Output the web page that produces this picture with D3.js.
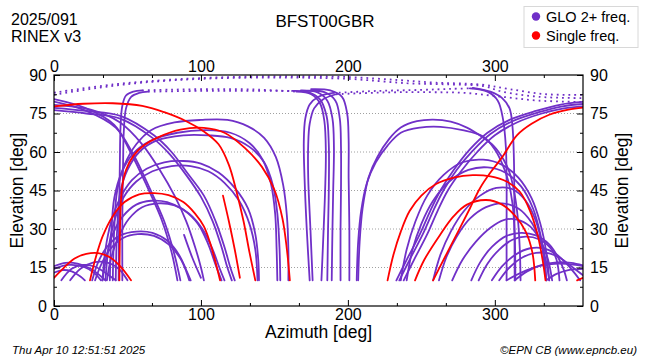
<!DOCTYPE html>
<html><head><meta charset="utf-8">
<script src="https://cdn.jsdelivr.net/npm/d3@7"></script>
<style>
body{margin:0;background:#fff}
text{font-family:"Liberation Sans",Arial,Helvetica,sans-serif;fill:#000}
</style>
</head><body>
<svg id="chart" width="650" height="360"></svg>
<script>
// ---------- data ----------
const azTicks = [0, 100, 200, 300];
const azMinorTicks = [33.33, 66.67, 133.33, 166.67, 233.33, 266.67, 333.33];
const elTicks = [0, 15, 30, 45, 60, 75, 90];
const elMinorTicks = [7.5, 22.5, 37.5, 52.5, 67.5, 82.5];
const elGrid = [15, 30, 45, 60, 75];
const seriesNames = ["GLO 2+ freq.", "Single freq."];

// GLONASS dual/multi-frequency tracks: [azimuth, elevation]
const gloTracks = [
  [[0,80.6],[22,77],[41,70.6],[52,60],[63,47],[73,34],[80,21],[84,10]],
  [[0,79.6],[22,76],[42,69.5],[54,59],[65,46],[75,33],[82,20],[86,10]],
  [[0,77.2],[22,76],[45.6,74],[68,66.5],[80,60],[90.5,52],[102,43],[110,33],[116,23],[120,15],[123,10]],
  [[0,76.3],[22,75],[45,73],[67,65.5],[79,59],[90,51],[100,42.5],[108,33],[114,23],[118,15],[121,10]],
  [[0,78.4],[25,76.5],[45,71.5],[60,63],[72,53],[82,43],[90,33],[96,23],[100,15],[102,10]],
  [[44,10],[44.3,35],[44.8,55],[45.3,70],[46.5,78],[49,82],[54,83.5],[60,84]],
  [[46.5,10],[46.5,35],[47,55],[47.5,68],[49,77],[52.5,81.5],[58,83],[64,83.5]],
  [[40,10],[41,30],[43,45],[48,55],[56,63],[66,68.5],[82,71.5],[100,72.5],[118,72.5],[132,70],[143,65.5],[151,58],[156,47],[158.5,35],[159.5,22],[159.5,10]],
  [[42,10],[43,30],[45,44],[50,53],[58,60],[70,64.5],[88,66.5],[105,66.5],[120,65.5],[133,62],[143,56],[149,47],[152,36],[153.5,22],[154,10]],
  [[38,10],[39,28],[41,42],[46,52],[54,59.5],[66,64.5],[84,67.5],[103,68.5],[120,67.5],[133,63.5],[142,57],[147.5,48],[150.5,36],[151.5,22],[152,10]],
  [[33,10],[35,22],[39,33],[45,42],[53,49],[63,53.5],[75,56],[88,56.5],[100,55.5],[112,52],[123,46],[132,38],[137,28],[139,18],[139.5,10]],
  [[35,10],[37,22],[41,33],[47,42],[56,48.5],[67,52.5],[80,54.5],[93,54.5],[105,52.5],[116,48],[126,41],[133,32],[137,22],[138.5,10]],
  [[33,10],[36,20],[40,28],[47,35],[56,39.5],[66,41],[77,40.5],[88,37.5],[98,32],[105,24],[110,16],[114,10]],
  [[36,10],[39,19],[44,27],[51,34],[60,38.5],[71,40],[82,39.2],[92,36],[101,30],[108,22],[112.5,15],[116,10]],
  [[26,10],[30,17],[36,23],[45,27.5],[56,29],[67,28.5],[77,25.5],[85,20],[90,14],[93,10]],
  [[28,10],[32,16],[38,22],[47,26.5],[57,28],[68,27.3],[78,24],[86,18.5],[90,13.5],[92,10]],
  [[0,15.5],[8,16.8],[16,16.5],[24,14.8],[30,12.5],[35,10]],
  [[0,14.5],[10,16],[20,15.3],[27,13],[32,10]],
  [[5,10],[12,14.5],[20,16],[28,15.3],[36,12.5],[42,10]],
  [[0,13],[6,14],[12,13.5],[18,11.5],[21,10]],
  [[11,10],[18,14.5],[27,17],[36,17],[44,14.5],[50,10]],
  [[88.5,27.7],[94,19],[100,11]],
  [[174,10],[172,30],[170.5,50],[170,64],[171,73],[174,78.5],[180,81.5],[190,83]],
  [[176,10],[174.5,30],[173,50],[173,63],[174,71],[177,77],[183,80.5],[192,82.5]],
  [[165,83.5],[175,82.5],[181,79],[184,72],[185,60],[184.5,45],[183.5,30],[182,10]],
  [[168,84],[179,83.3],[186,80],[189.5,73],[190.5,62],[190,45],[189.5,30],[189,10]],
  [[162,83.8],[173,83.3],[181,80.5],[185.5,74],[187,63],[187,45],[186.5,30],[186,10]],
  [[175,84.5],[188,84],[196,81.5],[199.5,75],[200.5,65],[200.5,50],[201,30],[201,10]],
  [[172,83.8],[184,83.3],[191.5,80],[194.5,73],[195.3,62],[195.3,45],[195,30],[195,10]],
  [[207,10],[208,25],[210,38],[214,50],[220,58],[228,65],[236,69.5],[247,72],[258,72.6],[270,71.8],[281,69.5],[291,66],[299,62.5],[306,57],[310,52],[313,45],[315.5,35],[317,22],[317.5,10]],
  [[206,10],[207,25],[209,37],[213,48],[219,56],[227,62.5],[236,67.5],[249,69.5],[263,69.8],[278,68.5],[292,66],[300,61],[305,55.5],[309,49],[312,40],[313.5,28],[314,10]],
  [[285,85],[297,83.5],[305,81],[310,77],[312,70],[313,57],[313.3,37],[313.5,10]],
  [[283,84.8],[295,83.5],[302,80],[305.5,73],[307.5,62],[308,48],[308,30],[308,10]],
  [[233,10],[240,18],[249,28],[256,37],[263,45],[272,53],[283,61],[295,67.5],[310,72.5],[328,76],[345,78.5],[360,79.5]],
  [[235,10],[242,18],[251,28],[258,37],[265,45],[274,53],[285,60.5],[297,67],[312,72],[330,75.5],[346,77.8],[360,78.7]],
  [[238,10],[245,18],[254,28],[261,37],[268,45],[277,52.5],[288,60],[300,66.5],[315,71.5],[332,75],[347,77],[360,77.8]],
  [[236,10],[240,22],[246,33],[254,43],[265,51],[278,56],[292,57],[305,55],[316,50],[325,42],[331,32],[335,21],[337,10]],
  [[240,10],[244,22],[250,32],[258,41],[269,48.5],[282,53],[295,54],[307,52],[318,46.5],[326,38],[331,28],[334,18],[335,10]],
  [[258,10],[263,20],[270,29],[279,37],[290,43],[301,46],[312,45.5],[321,41],[328,33],[332,24],[334,15],[335,10]],
  [[262,10],[267,19],[274,27],[283,34],[294,38.5],[305,40],[316,38],[325,32.5],[331,25],[335,17],[337,10]],
  [[271,10],[278,18],[287,25],[297,30.5],[306,33.5],[315,33.7],[324,31],[331,25.5],[336,18.5],[339,10]],
  [[284,10],[290,17],[298,23],[308,27.3],[318,28.5],[328,27.5],[337,24],[343,19],[347,14],[349,10]],
  [[289,10],[295,16.5],[303,22],[312,25.8],[321,27],[330,26],[338,22.5],[342,18],[344,10]],
  [[298,10],[305,15.5],[314,20],[324,22.5],[333,22.5],[341,20.5],[348,17],[354,13],[358,10]],
  [[303,10],[310,15],[319,19],[328,20.7],[337,20.5],[345,18.5],[352,15.5],[360,12]],
  [[313.5,10],[322,13.5],[332,16],[342,17],[352,16.8],[360,15.8]],
  [[308,10],[318,13],[330,15.5],[343,16.5],[355,16],[360,15.5]],
  [[335,10],[342,12.5],[350,14],[360,14.5]]
];

// GLONASS high passes near zenith (sparse epochs, drawn as dots)
const gloDotted = [
  [[0,82.3],[30,85],[60,87],[100,88.5],[150,89],[200,88.5],[240,86.8],[270,86.3],[292,85.7],[305,83.5],[330,81.5],[360,81]],
  [[0,83.1],[40,86.3],[80,88.2],[120,89.2],[160,89.5],[200,89.2],[235,88],[260,87],[290,86.3],[310,84.5],[335,82.5],[360,82.3]],
  [[60,84],[80,84.3],[110,84.5],[140,84.3],[165,83.5]],
  [[64,83.5],[100,83.8],[130,83.8],[162,83.8]],
  [[190,83],[220,83.8],[250,84.2],[270,84.6],[285,84.8]],
  [[192,82.5],[225,83.2],[255,83.3],[280,83],[305,81.5],[330,80],[360,79.5]]
];

// Single-frequency tracks
const singleTracks = [
  [[0,77.8],[20,78.8],[40,79],[60,78],[75,75.5],[90,72],[102,68],[112,63],[119,55],[124,45],[129,33],[133,21],[137,10]],
  [[44.5,10],[44.8,25],[45.3,38],[46.5,47],[49,53],[54,58.5],[61,62.5],[70,65.5],[86,68.7],[102,69.4],[116,67.5],[130,61.5],[141.5,54.2],[150,45.3],[155.5,34],[158.5,22],[160.5,10]],
  [[24.5,10],[28,18],[33,27],[40,35],[48,40.5],[58,43.5],[68,44],[78,43.2],[88,40.5],[96,36],[102,31],[106,25],[109.5,18],[113,10]],
  [[0,11],[6,14.5],[14,18.5],[22,20.3],[30,20.6],[38,19],[45,15.5],[52.4,10]],
  [[356,10],[360,11]],
  [[115,43],[119,33],[123,22],[126.5,11]],
  [[258,10],[266,19],[275,29],[283,38],[290,46],[297,52],[305,58],[315,66.5],[325,71],[337,74.5],[350,76.5],[360,77.3]],
  [[227,10],[231,20],[236,29],[242,37],[250,43],[260,47.5],[272,50],[285,51],[297,50.5],[308,48.5],[317,44.5],[324,37],[329,28],[332.5,18],[334.5,10]],
  [[245.7,10],[252,18],[262.7,27.7],[272,35],[281,39.5],[294,41.3],[305,39.5],[314,35],[321,29],[325.5,21],[327.5,10]]
];

// ---------- drawing ----------
const M = {left: 54, right: 583, top: 75, bottom: 306};
const purple = "#7030c8", red = "#ff0000";
const svg = d3.select("#chart");
const x = d3.scaleLinear().domain([0, 360]).range([M.left, M.right]);
const y = d3.scaleLinear().domain([0, 90]).range([M.bottom, M.top]);

svg.append("defs").append("clipPath").attr("id", "clip")
  .append("rect").attr("x", M.left).attr("y", M.top)
  .attr("width", M.right - M.left).attr("height", M.bottom - M.top);

// grid
svg.append("g").selectAll("line").data(elGrid).join("line")
  .attr("x1", M.left).attr("x2", M.right)
  .attr("y1", d => y(d)).attr("y2", d => y(d))
  .attr("stroke", "#a0a0a0").attr("stroke-width", 1).attr("stroke-dasharray", "1,2");

const line = d3.line().x(d => x(d[0])).y(d => y(d[1])).curve(d3.curveCatmullRom.alpha(0.5));
const plot = svg.append("g").attr("clip-path", "url(#clip)");

plot.append("g").selectAll("path").data(gloDotted).join("path")
  .attr("d", line).attr("fill", "none").attr("stroke", purple)
  .attr("stroke-width", 1.8).attr("stroke-dasharray", "1.8,4");
plot.append("g").selectAll("path").data(gloTracks).join("path")
  .attr("d", line).attr("fill", "none").attr("stroke", purple)
  .attr("stroke-width", 1.8).attr("stroke-linecap", "round");
plot.append("g").selectAll("path").data(singleTracks).join("path")
  .attr("d", line).attr("fill", "none").attr("stroke", red)
  .attr("stroke-width", 1.8).attr("stroke-linecap", "round");

// axes
function styleAxis(g) {
  g.select(".domain").remove();
  g.selectAll("line").attr("stroke", "#000");
  g.selectAll("text").attr("font-size", 16).attr("font-family", '"Liberation Sans",Arial,sans-serif');
}
svg.append("g").attr("transform", `translate(0,${M.bottom})`)
  .call(d3.axisBottom(x).tickValues(azTicks).tickFormat(d3.format("d")).tickSize(-6).tickPadding(3)).call(styleAxis);
svg.append("g").attr("transform", `translate(0,${M.bottom})`)
  .call(d3.axisBottom(x).tickValues(azMinorTicks).tickFormat("").tickSize(-3)).call(styleAxis);
svg.append("g").attr("transform", `translate(0,${M.top})`)
  .call(d3.axisTop(x).tickValues(azTicks).tickFormat(d3.format("d")).tickSize(-6).tickPadding(3)).call(styleAxis);
svg.append("g").attr("transform", `translate(0,${M.top})`)
  .call(d3.axisTop(x).tickValues(azMinorTicks).tickFormat("").tickSize(-3)).call(styleAxis);
svg.append("g").attr("transform", `translate(${M.left},0)`)
  .call(d3.axisLeft(y).tickValues(elTicks).tickSize(-6).tickPadding(7)).call(styleAxis);
svg.append("g").attr("transform", `translate(${M.left},0)`)
  .call(d3.axisLeft(y).tickValues(elMinorTicks).tickFormat("").tickSize(-3)).call(styleAxis);
svg.append("g").attr("transform", `translate(${M.right},0)`)
  .call(d3.axisRight(y).tickValues(elTicks).tickSize(-6).tickPadding(7)).call(styleAxis);
svg.append("g").attr("transform", `translate(${M.right},0)`)
  .call(d3.axisRight(y).tickValues(elMinorTicks).tickFormat("").tickSize(-3)).call(styleAxis);

svg.append("rect").attr("x", M.left).attr("y", M.top)
  .attr("width", M.right - M.left).attr("height", M.bottom - M.top)
  .attr("fill", "none").attr("stroke", "#000").attr("stroke-width", 1.2);

// titles
svg.append("text").attr("x", (M.left + M.right) / 2).attr("y", 338)
  .attr("text-anchor", "middle").attr("font-size", 17.5).text("Azimuth [deg]");
svg.append("text").attr("transform", `translate(23,${(M.top + M.bottom) / 2}) rotate(-90)`)
  .attr("text-anchor", "middle").attr("font-size", 17.5).text("Elevation [deg]");
svg.append("text").attr("transform", `translate(628,${(M.top + M.bottom) / 2}) rotate(-90)`)
  .attr("text-anchor", "middle").attr("font-size", 17.5).text("Elevation [deg]");
svg.append("text").attr("x", 325).attr("y", 27).attr("text-anchor", "middle")
  .attr("font-size", 17).text("BFST00GBR");
svg.append("text").attr("x", 11).attr("y", 24.5).attr("font-size", 16).text("2025/091");
svg.append("text").attr("x", 11).attr("y", 41.5).attr("font-size", 16).text("RINEX v3");
svg.append("text").attr("x", 12).attr("y", 354).attr("font-size", 11.5)
  .attr("font-style", "italic").text("Thu Apr 10 12:51:51 2025");
svg.append("text").attr("x", 637).attr("y", 354).attr("font-size", 11.5)
  .attr("font-style", "italic").attr("text-anchor", "end").text("\u00A9EPN CB (www.epncb.eu)");

// legend
const lg = svg.append("g");
lg.append("rect").attr("x", 524).attr("y", 6.5).attr("width", 114).attr("height", 41)
  .attr("fill", "#fff").attr("stroke", "#d8d8d8");
const colors = [purple, red];
seriesNames.forEach((name, i) => {
  lg.append("circle").attr("cx", 536).attr("cy", 16.5 + i * 19).attr("r", 4.2).attr("fill", colors[i]);
  lg.append("text").attr("x", 546).attr("y", 21.5 + i * 19).attr("font-size", 14.5).text(name);
});
</script>
</body></html>
